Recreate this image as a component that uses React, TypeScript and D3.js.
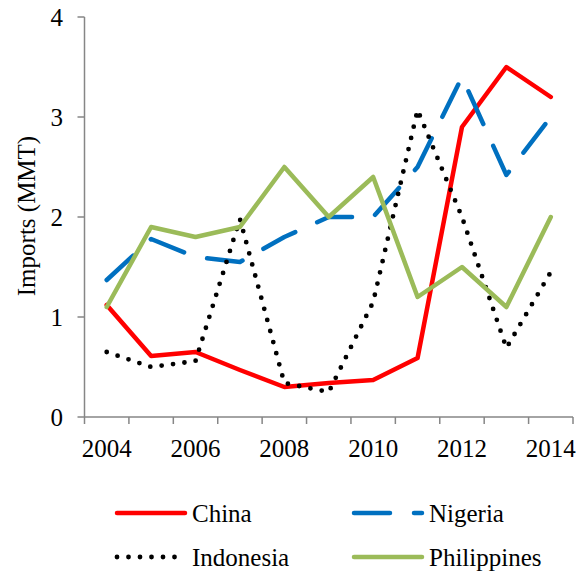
import React from 'react';
import * as d3 from 'd3';

// years on the category axis
const years = ['2004', '2005', '2006', '2007', '2008', '2009', '2010', '2011', '2012', '2013', '2014'];
const yearLabels = ['2004', '2006', '2008', '2010', '2012', '2014'];
const yTicks = [0, 1, 2, 3, 4];

// imports in MMT
const china = [1.12, 0.61, 0.65, 0.47, 0.3, 0.34, 0.37, 0.59, 2.9, 3.5, 3.2];
const nigeria = [1.37, 1.78, 1.6, 1.55, 1.8, 2.0, 2.0, 2.5, 3.4, 2.42, 3.0];
const indonesia = [0.65, 0.5, 0.56, 1.98, 0.34, 0.25, 1.15, 3.07, 2.0, 0.69, 1.45];
const philippines = [1.1, 1.9, 1.8, 1.9, 2.5, 2.0, 2.4, 1.2, 1.5, 1.1, 2.0];

const series = [
  { name: 'China', values: china, color: '#ff0000', dash: null, width: 4.5 },
  { name: 'Nigeria', values: nigeria, color: '#0070c0', dash: '36 24', width: 4.5 },
  { name: 'Indonesia', values: indonesia, color: '#000000', dash: '0 11.5', width: 4.8 },
  { name: 'Philippines', values: philippines, color: '#9bbb59', dash: null, width: 4.5 },
];

const font = '"Liberation Serif", "Times New Roman", serif';

export default function App() {
  // set the dimensions of the plot area
  const left = 84.5,
    right = 573,
    top = 17,
    bottom = 417;

  const xScale = d3.scaleBand().domain(years).range([left, right]);
  const yScale = d3.scaleLinear().domain([0, 4]).range([bottom, top]);
  const xc = (i: number) => xScale(years[i])! + xScale.bandwidth() / 2;

  const line = d3
    .line<number>()
    .x((d, i) => xc(i))
    .y((d) => yScale(d));

  const boundaries = years.map((y) => xScale(y)!).concat([right]);
  const axisColor = '#868686';

  // legend places
  const legend = [
    { x: 115, y: 513 },
    { x: 352, y: 513 },
    { x: 115, y: 557 },
    { x: 352, y: 557 },
  ];

  return (
    <svg
      width={586}
      height={572}
      style={{ position: 'absolute', left: 0, top: 0, background: '#fff' }}
      fontFamily={font}
    >
      <rect width={586} height={572} fill="#fff" />
      {/* y axis */}
      <line x1={left} x2={left} y1={top} y2={bottom} stroke={axisColor} strokeWidth={1.5} />
      {yTicks.map((t) => (
        <g key={t}>
          <line x1={left - 7} x2={left} y1={yScale(t)} y2={yScale(t)} stroke={axisColor} strokeWidth={1.5} />
          <text x={63} y={yScale(t) + 8.5} textAnchor="end" fontSize={25} fill="#000">
            {t}
          </text>
        </g>
      ))}
      <text
        transform={`translate(35,216) rotate(-90)`}
        textAnchor="middle"
        fontSize={25}
        fill="#000"
      >
        Imports (MMT)
      </text>

      {/* x axis */}
      <line x1={left} x2={right} y1={bottom} y2={bottom} stroke={axisColor} strokeWidth={1.5} />
      {boundaries.map((b, i) => (
        <line key={i} x1={b} x2={b} y1={bottom} y2={bottom + 7} stroke={axisColor} strokeWidth={1.5} />
      ))}
      {yearLabels.map((y) => (
        <text
          key={y}
          x={xScale(y)! + xScale.bandwidth() / 2}
          y={457}
          textAnchor="middle"
          fontSize={25}
          fill="#000"
        >
          {y}
        </text>
      ))}

      {/* series */}
      {series.map((s) => (
        <path
          key={s.name}
          d={line(s.values) || ''}
          fill="none"
          stroke={s.color}
          strokeWidth={s.width}
          strokeDasharray={s.dash || undefined}
          strokeLinecap="round"
          strokeLinejoin="round"
        />
      ))}

      {/* legend */}
      {series.map((s, i) => (
        <g key={s.name}>
          <line
            x1={legend[i].x + 2}
            x2={legend[i].x + 70}
            y1={legend[i].y}
            y2={legend[i].y}
            stroke={s.color}
            strokeWidth={s.width}
            strokeDasharray={s.dash || undefined}
            strokeLinecap="round"
          />
          <text x={legend[i].x + 77} y={legend[i].y + 8.5} fontSize={25} fill="#000">
            {s.name}
          </text>
        </g>
      ))}
    </svg>
  );
}
